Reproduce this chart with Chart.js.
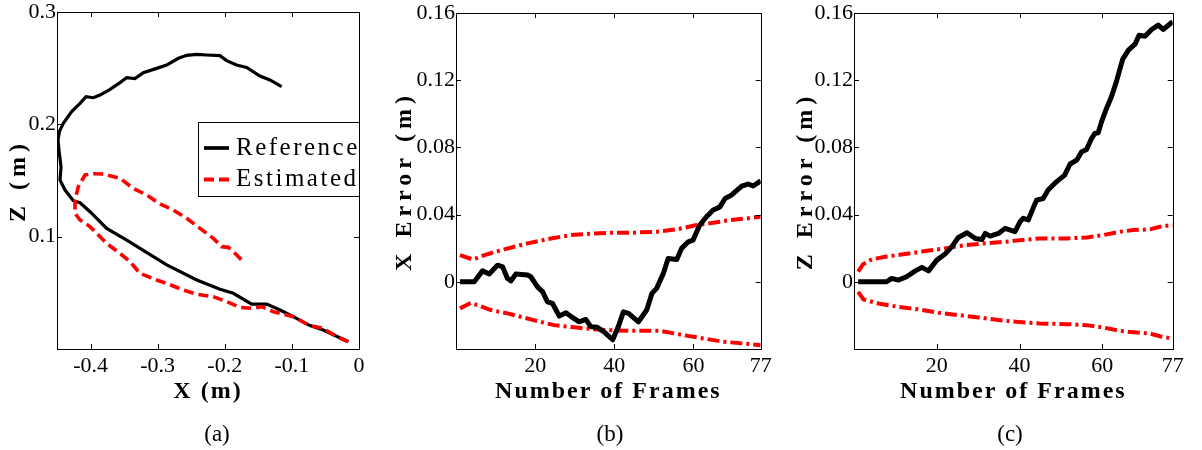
<!DOCTYPE html>
<html>
<head>
<meta charset="utf-8">
<title>Trajectory and error plots</title>
<script src="https://cdn.jsdelivr.net/npm/chart.js@4.4.1/dist/chart.umd.min.js"></script>
<style>
  body { margin: 0; background: #fff; }
  #page { position: relative; width: 1202px; height: 450px; overflow: hidden; background: #fff; }
  canvas { position: absolute; top: 0; }
  .caption { position: absolute; top: 421px; width: 60px; height: 28px; line-height: 28px;
             text-align: center; font: 23px "Liberation Serif", "Times New Roman", serif; color: #000; }
</style>
</head>
<body>
<div id="page">
  <canvas id="chartA" width="380" height="450" style="left:0"></canvas>
  <canvas id="chartB" width="405" height="450" style="left:385px"></canvas>
  <canvas id="chartC" width="417" height="450" style="left:785px"></canvas>
  <div class="caption" style="left:187px">(a)</div>
  <div class="caption" style="left:580px">(b)</div>
  <div class="caption" style="left:980px">(c)</div>
</div>
<script>
const serif = '"Liberation Serif", "Times New Roman", serif';

// (a) trajectory in the X-Z plane, both start at the lower right
const refX = [-0.0159, -0.0532, -0.0731, -0.0979, -0.1177, -0.1375, -0.1599, -0.1873, -0.2071, -0.2418,
  -0.2865, -0.3263, -0.3461, -0.3760, -0.4008, -0.4157, -0.4257, -0.4380, -0.4455, -0.4440,
  -0.4465, -0.4485, -0.4465, -0.4406, -0.4281, -0.4157, -0.4068, -0.3959, -0.3859, -0.3710,
  -0.3561, -0.3462, -0.3338, -0.3214, -0.3015, -0.2866, -0.2692, -0.2568, -0.2419, -0.2271,
  -0.2072, -0.1973, -0.1824, -0.1674, -0.1476, -0.1327, -0.1153];
const refZ = [0.0065, 0.0169, 0.0208, 0.0288, 0.0347, 0.0400, 0.0400, 0.0496, 0.0531, 0.0614,
  0.0748, 0.0896, 0.0970, 0.1074, 0.1222, 0.1302, 0.1320, 0.1415, 0.1504, 0.1623,
  0.1742, 0.1860, 0.1935, 0.2009, 0.2113, 0.2187, 0.2246, 0.2237, 0.2261, 0.2312,
  0.2371, 0.2415, 0.2407, 0.2460, 0.2498, 0.2528, 0.2588, 0.2614, 0.2623, 0.2617,
  0.2611, 0.2567, 0.2528, 0.2507, 0.2430, 0.2395, 0.2335];
const estX = [-0.0159, -0.0333, -0.0532, -0.0731, -0.0979, -0.1276, -0.1450, -0.1574, -0.1773, -0.1972,
  -0.2171, -0.2419, -0.2618, -0.2866, -0.3015, -0.3263, -0.3412, -0.3561, -0.3759, -0.4008,
  -0.4157, -0.4232, -0.4232, -0.4182, -0.4083, -0.3959, -0.3810, -0.3561, -0.3363, -0.3164,
  -0.2965, -0.2767, -0.2568, -0.2369, -0.2171, -0.2046, -0.1947, -0.1872, -0.1748];
const estZ = [0.0065, 0.0110, 0.0184, 0.0208, 0.0288, 0.0332, 0.0377, 0.0362, 0.0370, 0.0421,
  0.0466, 0.0487, 0.0525, 0.0584, 0.0614, 0.0673, 0.0777, 0.0851, 0.0940, 0.1089,
  0.1148, 0.1208, 0.1326, 0.1445, 0.1549, 0.1560, 0.1558, 0.1519, 0.1430, 0.1371,
  0.1291, 0.1237, 0.1163, 0.1074, 0.0985, 0.0911, 0.0905, 0.0866, 0.0792];

// (b) X error per frame and its red bounds
const framesX = [1, 4.6, 6.7, 8.4, 10.5, 11.8, 13, 13.9, 15.1, 18.1, 18.9, 20.6, 21.9, 23.1, 24.4,
  26.1, 27.8, 29.4, 31.1, 32.8, 34.1, 35.7, 37.4, 39.6, 41, 42.3, 43.6, 46.1, 48.2, 49.5,
  50.7, 52.4, 53.6, 55.8, 57, 58.7, 59.9, 61.6, 63.3, 65, 66.7, 68, 69.6, 72.2, 73.8, 75.1, 77];
const xErr = [0, 0, 0.0065, 0.0046, 0.0099, 0.0089, 0.002, 0.0006, 0.0046, 0.004, 0.003, -0.003, -0.006, -0.0119, -0.0129,
  -0.0204, -0.0184, -0.0212, -0.0238, -0.0224, -0.0268, -0.0271, -0.0298, -0.0345, -0.0268, -0.0179, -0.0188, -0.0238, -0.0168, -0.0069,
  -0.0039, 0.005, 0.0139, 0.0133, 0.0199, 0.0238, 0.0248, 0.0338, 0.0387, 0.0427, 0.0446, 0.0496, 0.0516, 0.057, 0.0582, 0.057, 0.0601];
const framesXUp = [1, 4.2, 8, 12.2, 18.1, 24, 29, 34.9, 39.1, 44, 50.7, 55.8, 60.8, 65, 69.2, 73.4, 77];
const xUp = [0.0159, 0.0133, 0.0165, 0.0193, 0.0229, 0.0258, 0.0278, 0.0288, 0.0292, 0.0292, 0.0298, 0.0312, 0.0338, 0.0351, 0.0367, 0.0377, 0.0387];
const framesXLo = [1, 3.8, 8.8, 13, 18.9, 24.8, 29.9, 34.9, 39.1, 44, 51.6, 57.4, 62.5, 67.5, 72.6, 77];
const xLo = [-0.0158, -0.0125, -0.0168, -0.0188, -0.0224, -0.0258, -0.0271, -0.0283, -0.0288, -0.0292, -0.0292, -0.0317, -0.0337, -0.0357, -0.0367, -0.0377];

// (c) Z error per frame and its red bounds
const framesZ = [1, 6.7, 7.9, 9.1, 10.7, 12.7, 14.8, 16.4, 18, 20, 22, 23.6, 25.2, 27.3, 29.3,
  30.9, 31.7, 32.9, 34.9, 36.5, 38.9, 40.1, 40.9, 42.1, 43.3, 44.1, 45.7, 46.9, 48.9, 50.9,
  52.2, 53.8, 55, 56.2, 57.4, 58.2, 59, 59.8, 61, 62.2, 63.5, 64.9, 66.3, 67.9, 68.9, 70.3, 71.9, 73.5, 74.7, 77];
const zErr = [0, 0, 0, 0.002, 0.001, 0.003, 0.0065, 0.0086, 0.0065, 0.0129, 0.0165, 0.0208, 0.0264, 0.0292, 0.0258,
  0.0252, 0.0288, 0.0272, 0.0288, 0.0318, 0.0298, 0.0357, 0.0378, 0.0368, 0.044, 0.0486, 0.0496, 0.0546, 0.0595, 0.0635,
  0.0701, 0.0724, 0.0774, 0.0788, 0.0854, 0.0883, 0.0887, 0.0952, 0.1032, 0.1101, 0.12, 0.1324, 0.1379, 0.1415, 0.1468, 0.1462, 0.1502, 0.1528, 0.1502, 0.1548];
const framesZUp = [1, 2.2, 4.3, 7.5, 12.3, 17.2, 22, 26.8, 31.7, 36.5, 40.1, 44.9, 51.4, 56.2, 60.2, 64.3, 67.5, 71.5, 73.9, 77];
const zUp = [0.006, 0.0105, 0.0133, 0.0149, 0.0165, 0.0183, 0.0199, 0.0218, 0.0229, 0.0238, 0.0248, 0.0258, 0.0258, 0.0264, 0.0278, 0.0298, 0.0308, 0.0312, 0.0328, 0.0338];
const framesZLo = [1, 2.3, 5.9, 10.7, 15.6, 20.4, 25.2, 30.1, 34.9, 40.1, 44.9, 51.4, 56.2, 60.2, 64.3, 67.5, 71.5, 73.9, 77];
const zLo = [-0.006, -0.0105, -0.0129, -0.0149, -0.0164, -0.0184, -0.0198, -0.0212, -0.0228, -0.024, -0.0248, -0.0252, -0.0258, -0.0272, -0.0292, -0.03, -0.0308, -0.0324, -0.0338];

// tick labels
const ticksXA = [-0.4, -0.3, -0.2, -0.1, 0];
const ticksZA = [0.1, 0.2, 0.3];
const ticksFrames = [20, 40, 60, 77];
const ticksErr = [0, 0.04, 0.08, 0.12, 0.16];

function pts(xs, ys) {
  return xs.map((x, i) => ({x: x, y: ys[i]}));
}

// matlab style box with inward tick marks on all four sides
const frameBox = {
  id: 'frameBox',
  afterDraw(chart) {
    const {ctx, chartArea: a, scales: {x, y}} = chart;
    ctx.save();
    ctx.strokeStyle = '#000';
    ctx.lineWidth = 1;
    ctx.strokeRect(Math.round(a.left) + 0.5, Math.round(a.top) + 0.5,
      Math.round(a.right) - Math.round(a.left), Math.round(a.bottom) - Math.round(a.top));
    ctx.beginPath();
    x.ticks.forEach(t => {
      const px = Math.round(x.getPixelForValue(t.value)) + 0.5;
      ctx.moveTo(px, a.bottom); ctx.lineTo(px, a.bottom - 5);
      ctx.moveTo(px, a.top); ctx.lineTo(px, a.top + 5);
    });
    y.ticks.forEach(t => {
      const py = Math.round(y.getPixelForValue(t.value)) + 0.5;
      ctx.moveTo(a.left, py); ctx.lineTo(a.left + 5, py);
      ctx.moveTo(a.right, py); ctx.lineTo(a.right - 5, py);
    });
    ctx.stroke();
    ctx.restore();
  }
};

// wider letter spacing for the bold axis titles
const titleSpacing = {
  id: 'titleSpacing',
  beforeDraw(chart) {
    Object.values(chart.scales).forEach(s => {
      if (s.drawTitle.spaced) return;
      const draw = s.drawTitle.bind(s);
      s.drawTitle = function () {
        chart.ctx.save();
        chart.ctx.letterSpacing = s.isHorizontal() ? '2px' : '5px';
        draw();
        chart.ctx.restore();
      };
      s.drawTitle.spaced = true;
    });
  }
};

// boxed legend inside the plot, right side
const boxLegend = {
  id: 'boxLegend',
  afterDraw(chart) {
    const {ctx, chartArea: a} = chart;
    const w = 161, h = 74;
    const left = Math.round(a.right) - w, top = Math.round(a.top) + 110;
    ctx.save();
    ctx.fillStyle = '#fff';
    ctx.fillRect(left, top, w, h);
    ctx.strokeStyle = '#000';
    ctx.lineWidth = 1;
    ctx.strokeRect(left + 0.5, top + 0.5, w, h);
    chart.data.datasets.forEach((ds, i) => {
      const cy = top + 26 + i * 31.5;
      ctx.strokeStyle = ds.borderColor;
      ctx.lineWidth = ds.borderWidth + 0.5;
      ctx.setLineDash(ds.borderDash || []);
      ctx.beginPath();
      ctx.moveTo(left + 6, cy);
      ctx.lineTo(left + 31, cy);
      ctx.stroke();
      ctx.setLineDash([]);
      ctx.fillStyle = '#000';
      ctx.font = '25px ' + serif;
      ctx.letterSpacing = '2.5px';
      ctx.textBaseline = 'middle';
      ctx.fillText(ds.label, left + 38, cy);
    });
    ctx.restore();
  }
};

function scaleOpts(min, max, ticks, title, size, titlePad) {
  return {
    type: 'linear',
    min: min,
    max: max,
    afterBuildTicks: s => { s.ticks = ticks.map(v => ({value: v})); },
    afterFit: s => { if (s.isHorizontal()) s.height = size; else s.width = size; },
    grid: {display: false, drawTicks: false},
    border: {display: false},
    ticks: {
      color: '#000',
      font: {family: serif, size: 22, lineHeight: 1},
      padding: 6,
      maxRotation: 0,
      autoSkip: false,
      callback: v => String(v)
    },
    title: {
      display: true,
      text: title,
      color: '#000',
      font: {family: serif, size: 24, weight: 'bold'},
      padding: titlePad
    }
  };
}

const common = {
  responsive: false,
  animation: false,
  devicePixelRatio: 1,
  events: [],
  plugins: {legend: {display: false}, tooltip: {enabled: false}}
};

// (a)
const optsA = Object.assign({}, common, {
  layout: {padding: {left: 0, right: 21, top: 12, bottom: 41}},
  scales: {
    x: scaleOpts(-0.45, 0, ticksXA, 'X (m)', 60, {top: 0, bottom: 3}),
    y: scaleOpts(0, 0.3, ticksZA, 'Z (m)', 57, {top: 4, bottom: 0})
  }
});
optsA.scales.y.ticks.padding = 1;

new Chart(document.getElementById('chartA'), {
  type: 'scatter',
  data: {
    datasets: [
      {label: 'Reference', data: pts(refX, refZ), showLine: true, borderColor: '#000000',
        borderWidth: 3.2, pointRadius: 0, tension: 0, order: 1},
      {label: 'Estimated', data: pts(estX, estZ), showLine: true, borderColor: '#ff0000',
        borderWidth: 3.6, borderDash: [10, 5], pointRadius: 0, tension: 0, order: 0}
    ]
  },
  options: optsA,
  plugins: [titleSpacing, frameBox, boxLegend]
});

// (b) and (c)
function errorChart(id, yTitle, axisWidth, titleLeft, err, up, lo) {
  const opts = Object.assign({}, common, {
    layout: {padding: {left: 0, right: 29.3, top: 13, bottom: 41}},
    scales: {
      x: scaleOpts(0, 77, ticksFrames, 'Number of Frames', 60, {top: 0, bottom: 3}),
      y: scaleOpts(-0.04, 0.16, ticksErr, yTitle, axisWidth, {top: titleLeft, bottom: 0})
    }
  });
  opts.scales.y.ticks.padding = 1;
  const red = {borderColor: '#ff0000', borderWidth: 4, borderDash: [12, 4, 3, 4], pointRadius: 0, tension: 0};
  new Chart(document.getElementById(id), {
    type: 'line',
    data: {
      datasets: [
        {label: 'Error', data: err, borderColor: '#000000', borderWidth: 5, pointRadius: 0, tension: 0,
          borderJoinStyle: 'round'},
        Object.assign({label: 'Upper bound', data: up}, red),
        Object.assign({label: 'Lower bound', data: lo}, red)
      ]
    },
    options: opts,
    plugins: [titleSpacing, frameBox]
  });
}

errorChart('chartB', 'X Error (m)', 71, 5.6, pts(framesX, xErr), pts(framesXUp, xUp), pts(framesXLo, xLo));
errorChart('chartC', 'Z Error (m)', 69, 6.6, pts(framesZ, zErr), pts(framesZUp, zUp), pts(framesZLo, zLo));
</script>
</body>
</html>
